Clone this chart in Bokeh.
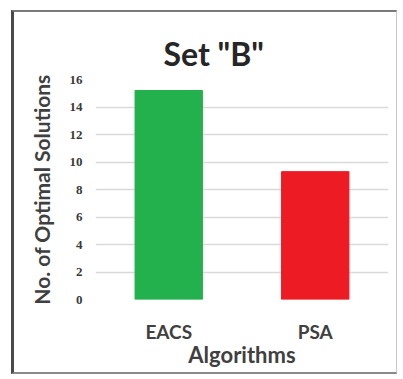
from bokeh.plotting import figure
from bokeh.models import ColumnDataSource, Range1d, FactorRange, SingleIntervalTicker
from bokeh.embed import file_html
from bokeh.resources import INLINE

# Number of optimal solutions found by each algorithm on set "B"
algorithms = ["EACS", "PSA"]
optimal_solutions = [15.2, 9.3]
bar_colors = ["#22b14c", "#ed1c24"]

source = ColumnDataSource(data=dict(algorithm=algorithms, value=optimal_solutions, color=bar_colors))

p = figure(
    width=386, height=364,
    x_range=FactorRange(*algorithms, range_padding=0),
    y_range=Range1d(0, 16),
    output_backend="svg", toolbar_location=None,
    min_border_left=81, min_border_right=12, min_border_top=67, min_border_bottom=77,
)
# framed chart area
p.styles = {
    "margin-left": "11px", "margin-top": "10px",
    "border-left": "3px solid #4a4a4a",
    "border-top": "2px solid #7a7a7a",
    "border-right": "1px solid #c8c8c8",
    "border-bottom": "2px solid #8a8a8a",
}

p.vbar(x="algorithm", top="value", width=0.46, color="color", source=source)

# title
p.title.text = 'Set "B"'
p.title.align = "left"
p.title.offset = 68
p.title.standoff = 13
p.title.text_font = "Lato"
p.title.text_font_style = "bold"
p.title.text_font_size = "32px"
p.title.text_color = "#262626"

# y axis
p.yaxis.ticker = SingleIntervalTicker(interval=2)
p.yaxis.axis_label = "No. of Optimal Solutions"
p.yaxis.axis_label_text_font = "Lato"
p.yaxis.axis_label_text_font_style = "bold"
p.yaxis.axis_label_text_font_size = "21px"
p.yaxis.axis_label_text_color = "#404040"
p.yaxis.axis_label_standoff = 13
p.yaxis.major_label_text_font = "Liberation Serif"
p.yaxis.major_label_text_font_style = "bold"
p.yaxis.major_label_text_font_size = "13px"
p.yaxis.major_label_text_color = "#3a3a3a"
p.yaxis.major_label_standoff = 7

# x axis
p.xaxis.axis_label = "Algorithms"
p.xaxis.axis_label_text_font = "Lato"
p.xaxis.axis_label_text_font_style = "bold"
p.xaxis.axis_label_text_font_size = "22px"
p.xaxis.axis_label_text_color = "#404040"
p.xaxis.axis_label_standoff = -5
p.xaxis.major_label_text_font = "Lato"
p.xaxis.major_label_text_font_style = "bold"
p.xaxis.major_label_text_font_size = "19px"
p.xaxis.major_label_text_color = "#404040"
p.xaxis.major_label_standoff = 14

for ax in (p.xaxis, p.yaxis):
    ax.axis_line_color = None
    ax.major_tick_line_color = None
    ax.minor_tick_line_color = None

p.xgrid.grid_line_color = None
p.ygrid.grid_line_color = "#d9d9d9"
p.ygrid.grid_line_width = 1.5
p.outline_line_color = None

open("out.html", "w").write(file_html(p, INLINE))
